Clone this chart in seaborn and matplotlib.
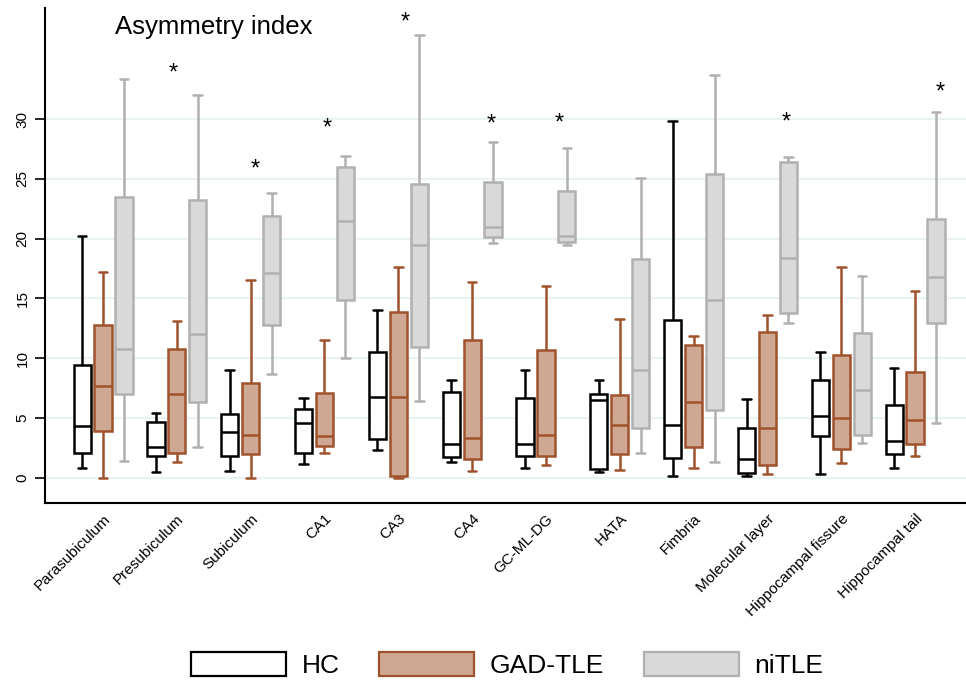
import matplotlib
matplotlib.use("Agg")
import matplotlib.pyplot as plt
from matplotlib.patches import Patch
import seaborn as sns
import pandas as pd

# Hippocampal subfields and groups
regions = ["Parasubiculum", "Presubiculum", "Subiculum", "CA1", "CA3", "CA4",
           "GC-ML-DG", "HATA", "Fimbria", "Molecular layer",
           "Hippocampal fissure", "Hippocampal tail"]
groups = ["HC", "GAD-TLE", "niTLE"]

# five-number summaries per region: whisker low, Q1, median, Q3, whisker high
hc_stats = [
    [0.8, 2.1, 4.3, 9.4, 20.2],
    [0.45, 1.85, 2.55, 4.65, 5.45],
    [0.6, 1.85, 3.8, 5.35, 9.05],
    [1.15, 2.05, 4.55, 5.75, 6.65],
    [2.3, 3.25, 6.8, 10.5, 14.05],
    [1.3, 1.75, 2.8, 7.15, 8.15],
    [0.85, 1.85, 2.85, 6.7, 9.05],
    [0.5, 0.7, 6.5, 7.05, 8.15],
    [0.15, 1.7, 4.4, 13.2, 29.8],
    [0.15, 0.4, 1.6, 4.2, 6.6],
    [0.3, 3.5, 5.2, 8.2, 10.55],
    [0.85, 2.0, 3.05, 6.1, 9.15],
]
gad_stats = [
    [0.0, 3.95, 7.65, 12.75, 17.25],
    [1.3, 2.1, 7.05, 10.8, 13.15],
    [0.0, 2.0, 3.55, 7.9, 16.5],
    [2.1, 2.7, 3.5, 7.1, 11.55],
    [0.0, 0.15, 6.8, 13.85, 17.65],
    [0.55, 1.6, 3.3, 11.5, 16.35],
    [1.1, 1.8, 3.55, 10.7, 16.0],
    [0.65, 2.0, 4.4, 6.95, 13.3],
    [0.85, 2.6, 6.3, 11.1, 11.9],
    [0.3, 1.05, 4.15, 12.2, 13.6],
    [1.2, 2.4, 5.0, 10.25, 17.65],
    [1.85, 2.85, 4.8, 8.85, 15.65],
]
ni_stats = [
    [1.45, 7.05, 10.8, 23.45, 33.35],
    [2.55, 6.3, 12.05, 23.2, 32.05],
    [8.7, 12.75, 17.1, 21.9, 23.85],
    [10.0, 14.9, 21.5, 26.0, 26.95],
    [6.4, 10.95, 19.45, 24.55, 37.05],
    [19.6, 20.1, 20.95, 24.7, 28.1],
    [19.45, 19.75, 20.2, 24.0, 27.55],
    [2.1, 4.2, 9.05, 18.3, 25.1],
    [1.35, 5.7, 14.85, 25.4, 33.65],
    [12.95, 13.75, 18.35, 26.4, 26.8],
    [2.95, 3.6, 7.35, 12.15, 16.9],
    [4.55, 12.95, 16.8, 21.65, 30.55],
]

# significance markers
star_regions = ["Presubiculum", "Subiculum", "CA1", "CA3", "CA4",
                "GC-ML-DG", "Molecular layer", "Hippocampal tail"]
star_y = [34.1, 26.1, 29.5, 38.4, 29.8, 29.9, 30.0, 32.5]
star_shift = [-0.05, 0.06, 0.04, 0.10, 0.26, 0.18, 0.26, 0.34]

fills = ["white", "#cfa893", "#d9d9d9"]
edges = ["black", "#a0522d", "#b0b0b0"]

# long table: five values per box reproduce the summary with whis=(0, 100)
rows = []
for g, stats in zip(groups, [hc_stats, gad_stats, ni_stats]):
    for r, five in zip(regions, stats):
        for v in five:
            rows.append({"region": r, "group": g, "value": v})
df = pd.DataFrame(rows)

sns.set_theme(style="white")
plt.rcParams["font.family"] = ["Liberation Sans", "DejaVu Sans"]
plt.rcParams["text.color"] = "black"
plt.rcParams["xtick.color"] = "black"
plt.rcParams["ytick.color"] = "black"

fig = plt.figure(figsize=(9.66, 6.8), dpi=100)
ax = fig.add_axes([0.0466, 0.26, 0.9534, 0.728])

palette = dict(zip(groups, fills))
for g, edge in zip(groups, edges):
    sns.boxplot(data=df[df["group"] == g], x="region", y="value",
                hue="group", order=regions, hue_order=groups, dodge=True,
                palette=palette, linecolor=edge, linewidth=1.8,
                width=0.85, gap=0.18, whis=(0, 100), saturation=1,
                fliersize=0, legend=False, ax=ax)

for r, y, dx in zip(star_regions, star_y, star_shift):
    ax.text(regions.index(r) + dx, y - 0.3, "*", ha="center", va="center",
            fontsize=17, color="black")

ax.text(0.076, 0.962, "Asymmetry index", transform=ax.transAxes,
        ha="left", va="center", fontsize=18.5, color="black")

ax.set_xlim(-0.786, 11.69)
ax.set_ylim(-2.12, 39.27)
ax.set_yticks(range(0, 31, 5))
ax.set_yticklabels([str(t) for t in range(0, 31, 5)], rotation=90,
                   va="center", fontsize=11)
ax.set_xticks(range(len(regions)))
ax.set_xticklabels(regions, rotation=45, ha="right",
                   rotation_mode="anchor", fontsize=11)
ax.tick_params(axis="y", length=7, width=1.2, color="black", left=True,
               pad=4, labelcolor="black")
ax.tick_params(axis="x", length=0, pad=6, labelcolor="black")
ax.set_xlabel("")
ax.set_ylabel("")

ax.yaxis.grid(True, color="#eaf2f3", linewidth=1.6)
ax.set_axisbelow(True)
for side in ["top", "right"]:
    ax.spines[side].set_visible(False)
for side in ["left", "bottom"]:
    ax.spines[side].set_color("black")
    ax.spines[side].set_linewidth(1.5)

handles = [Patch(facecolor=f, edgecolor=e, linewidth=1.6, label=g)
           for g, f, e in zip(groups, fills, edges)]
fig.legend(handles=handles, loc="center", bbox_to_anchor=(0.525, 0.022),
           ncol=3, frameon=False, fontsize=19, handlelength=3.6,
           handleheight=1.0, handletextpad=0.6, columnspacing=1.5,
           borderpad=0, labelcolor="black")

fig.savefig("out.png", dpi=100)
